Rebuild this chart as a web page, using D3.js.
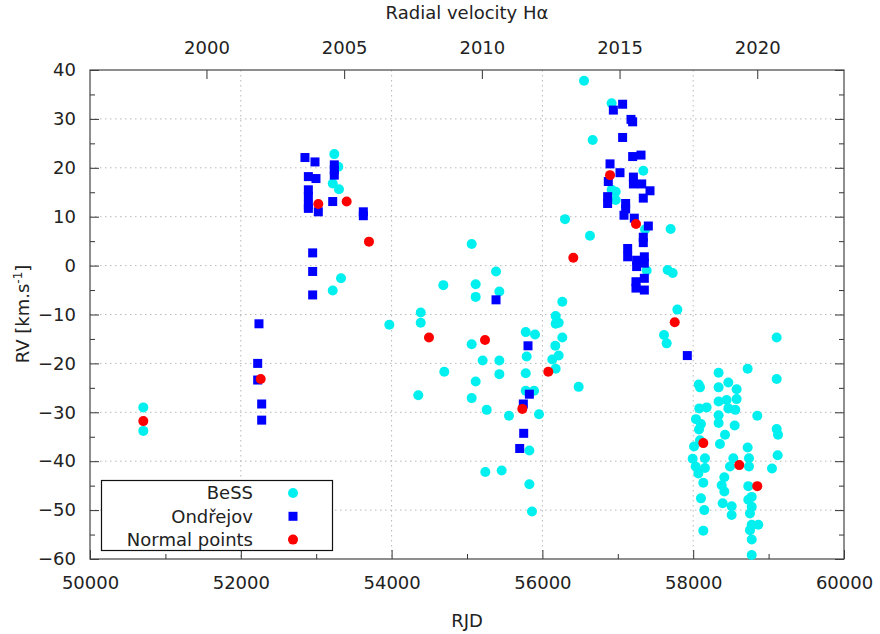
<!DOCTYPE html>
<html>
<head>
<meta charset="utf-8">
<script src="https://cdn.jsdelivr.net/npm/d3@7"></script>
<style>
  html, body { margin: 0; padding: 0; background: #fff; }
  svg { display: block; }
  text { font-family: "DejaVu Sans", sans-serif; fill: #222; }
</style>
</head>
<body>
<svg id="chart" width="880" height="634"></svg>
<script>
// BeSS amateur spectra: RJD and H-alpha radial velocity (km/s)
const bessRjd = [50707, 50707, 53240, 53293, 53219, 53302, 53329, 53219, 56552, 56667,
  56300, 56631, 55062, 55385, 55115, 55429, 55115, 54686, 56264, 56918,
  57338, 56918, 56972, 56972, 57361, 57701, 57383, 57661, 57728, 57790,
  54386, 54386, 53970, 55062, 55779, 55902, 55791, 55208, 55429, 54699,
  55115, 55429, 55779, 54354, 55062, 55779, 55889, 55261, 55557, 55955,
  55827, 55243, 55460, 55827, 55862, 56176, 56216, 56176, 56264, 56171,
  56216, 56131, 56176, 56481, 57613, 57648, 59107, 58722, 58337, 59107,
  58073, 58090, 58466, 58337, 58576, 58337, 58443, 58576, 58466, 58558,
  58081, 58178, 58850, 58337, 58337, 58037, 58103, 58077, 58550, 59107,
  59125, 58422, 58090, 58011, 58355, 58722, 57993, 58156, 58156, 58033,
  58068, 58134, 58532, 58488, 58740, 58740, 59045, 59120, 58413, 58378,
  58413, 58731, 58776, 58731, 58776, 58753, 58776, 58753, 58776, 58776,
  58863, 58103, 58147, 58391, 58510, 58510, 58134];
const bessRv = [-29.0, -33.8, 22.8, 20.2, 16.8, 15.6, -2.6, -5.1, 37.8, 25.7,
  9.5, 6.1, 4.4, -1.2, -3.8, -5.3, -6.4, -4.0, -7.4, 33.2,
  19.4, 15.5, 15.1, 13.4, 7.4, 7.5, -1.0, -0.9, -1.5, -9.0,
  -9.6, -11.7, -12.1, -16.1, -13.6, -14.1, -18.6, -19.4, -19.4, -21.7,
  -23.7, -22.2, -22.0, -26.5, -27.1, -25.6, -25.6, -29.5, -30.7, -30.4,
  -37.8, -42.2, -41.9, -44.7, -50.3, -10.3, -11.7, -11.9, -14.7, -16.4,
  -18.4, -19.2, -21.1, -24.8, -14.2, -15.9, -14.7, -21.1, -21.9, -23.2,
  -24.3, -24.9, -23.9, -24.9, -25.3, -27.8, -27.5, -27.3, -29.2, -29.5,
  -29.2, -29.0, -30.7, -30.6, -32.2, -31.4, -32.4, -33.5, -32.7, -33.4,
  -34.6, -34.6, -35.7, -37.0, -36.5, -37.2, -39.5, -39.4, -41.4, -41.1,
  -42.5, -44.4, -39.4, -41.1, -39.4, -41.1, -41.5, -38.8, -43.3, -44.9,
  -46.2, -45.1, -47.3, -47.9, -49.3, -50.7, -53.0, -54.1, -56.0, -59.2,
  -53.0, -47.6, -50.0, -48.6, -49.2, -51.0, -54.2];

// Ondřejov spectra
const ondRjd = [52241, 52224, 52224, 52277, 52277,
  52851, 52984, 52896, 52997, 52896, 52896, 52896, 52896, 53028, 53240,
  53240, 53240, 53219, 52953, 52953, 52953, 53625, 53625, 55385,
  55809, 55827, 55747, 55752, 55699,
  57064, 56941, 57175, 57197, 57064, 57197, 57308, 56897, 57029, 56874,
  57207, 57207, 57317, 57427, 56865, 56865, 57338, 57104, 57104, 57082,
  57219, 57405, 57338, 57338, 57131, 57131, 57250, 57250, 57352, 57352,
  57241, 57241, 57352, 57352, 57922];
const ondRv = [-11.9, -20.0, -23.4, -28.3, -31.6,
  22.1, 21.2, 18.2, 17.8, 15.5, 14.1, 12.4, 11.7, 11.0, 20.6,
  19.6, 18.5, 13.1, 2.6, -1.2, -6.0, 11.0, 10.2, -7.0,
  -16.4, -26.3, -28.3, -34.3, -37.4,
  33.0, 31.8, 29.9, 29.4, 26.2, 22.3, 22.6, 20.8, 19.0, 17.2,
  18.1, 16.7, 16.7, 15.3, 14.1, 12.7, 13.8, 12.7, 11.6, 10.3,
  9.7, 8.1, 5.8, 4.7, 3.5, 1.8, 1.1, -0.2, 1.8, 0.5,
  -3.3, -4.6, -2.6, -5.0, -18.4];

// Normal points
const normRjd = [50707, 52264, 53028, 53404, 53700, 54496, 55239, 56078, 55734,
  56410, 56897, 57241, 57755, 58134, 58611, 58850];
const normRv = [-31.8, -23.2, 12.6, 13.1, 4.9, -14.7, -15.2, -21.7, -29.3,
  1.6, 18.5, 8.5, -11.6, -36.3, -40.8, -45.1];

// Axis ticks
const rjdTicks = [50000, 52000, 54000, 56000, 58000, 60000];
const rjdMinor = [51000, 53000, 55000, 57000, 59000];
const rvTicks = [-60, -50, -40, -30, -20, -10, 0, 10, 20, 30, 40];
const rvMinor = [-55, -45, -35, -25, -15, -5, 5, 15, 25, 35];
const yearTicks = [2000, 2005, 2010, 2015, 2020];

const FS = 18;
const svg = d3.select("#chart");
const L = 90, R = 844, T = 70, B = 559;

const x = d3.scaleLinear().domain([50000, 60000]).range([L, R]);
const y = d3.scaleLinear().domain([-60, 40]).range([B, T]);
const toYear = r => 2000 + (r - 51544.5) / 365.25;
const xYear = d3.scaleLinear().domain([toYear(50000), toYear(60000)]).range([L, R]);

// dotted grid
const grid = svg.append("g").attr("stroke", "#b8b8b8").attr("stroke-width", 1)
  .attr("stroke-dasharray", "1.5,3.5");
grid.selectAll("line.gx").data(rjdTicks.slice(1, -1)).join("line")
  .attr("x1", d => x(d)).attr("x2", d => x(d)).attr("y1", T).attr("y2", B);
grid.selectAll("line.gy").data(rvTicks.slice(1, -1)).join("line")
  .attr("x1", L).attr("x2", R).attr("y1", d => y(d)).attr("y2", d => y(d));

function styleAxis(g) {
  g.select(".domain").remove();
  g.selectAll(".tick line").attr("stroke", "#333");
  g.selectAll(".tick text").attr("font-size", FS).attr("fill", "#222")
    .style("font-family", "'DejaVu Sans', sans-serif");
}

// bottom axis
svg.append("g").attr("transform", `translate(0,${B})`)
  .call(d3.axisBottom(x).tickValues(rjdTicks).tickFormat(d3.format("d")).tickSizeInner(-9).tickSizeOuter(0).tickPadding(17))
  .call(styleAxis);
svg.append("g").attr("transform", `translate(0,${B})`)
  .call(d3.axisBottom(x).tickValues(rjdMinor).tickFormat("").tickSizeInner(-5).tickSizeOuter(0))
  .call(styleAxis);

// left axis
svg.append("g").attr("transform", `translate(${L},0)`)
  .call(d3.axisLeft(y).tickValues(rvTicks).tickFormat(d3.format("d")).tickSizeInner(-9).tickSizeOuter(0).tickPadding(14))
  .call(styleAxis);
svg.append("g").attr("transform", `translate(${L},0)`)
  .call(d3.axisLeft(y).tickValues(rvMinor).tickFormat("").tickSizeInner(-5).tickSizeOuter(0))
  .call(styleAxis);

// right axis (ticks only)
svg.append("g").attr("transform", `translate(${R},0)`)
  .call(d3.axisRight(y).tickValues(rvTicks).tickFormat("").tickSizeInner(-9).tickSizeOuter(0))
  .call(styleAxis);
svg.append("g").attr("transform", `translate(${R},0)`)
  .call(d3.axisRight(y).tickValues(rvMinor).tickFormat("").tickSizeInner(-5).tickSizeOuter(0))
  .call(styleAxis);

// top axis in calendar years
svg.append("g").attr("transform", `translate(0,${T})`)
  .call(d3.axisTop(xYear).tickValues(yearTicks).tickFormat(d3.format("d")).tickSizeInner(-9).tickSizeOuter(0).tickPadding(16))
  .call(styleAxis);

// frame
svg.append("rect").attr("x", L).attr("y", T).attr("width", R - L).attr("height", B - T)
  .attr("fill", "none").attr("stroke", "#444").attr("stroke-width", 1.2);

// data marks
const plot = svg.append("g");
const bess = d3.zip(bessRjd, bessRv);
const ond = d3.zip(ondRjd, ondRv);
const norm = d3.zip(normRjd, normRv);

plot.append("g").selectAll("circle").data(bess).join("circle")
  .attr("cx", d => x(d[0])).attr("cy", d => y(d[1])).attr("r", 5)
  .attr("fill", "#00f0f0");
plot.append("g").selectAll("rect").data(ond).join("rect")
  .attr("x", d => x(d[0]) - 4.5).attr("y", d => y(d[1]) - 4.5)
  .attr("width", 9).attr("height", 9).attr("fill", "#0000ff");
plot.append("g").selectAll("circle").data(norm).join("circle")
  .attr("cx", d => x(d[0])).attr("cy", d => y(d[1])).attr("r", 5)
  .attr("fill", "#ff0000");

// legend
const lg = svg.append("g");
lg.append("rect").attr("x", 101.5).attr("y", 480.5).attr("width", 231).attr("height", 70)
  .attr("fill", "#fff").attr("stroke", "#111").attr("stroke-width", 1.2);
const legendItems = [
  { label: "BeSS", kind: "bess" },
  { label: "Ondřejov", kind: "ond" },
  { label: "Normal points", kind: "norm" }
];
legendItems.forEach((it, i) => {
  const cy = 493 + i * 23.3;
  lg.append("text").attr("x", 253).attr("y", cy).attr("dy", "0.35em")
    .attr("text-anchor", "end").attr("font-size", FS).text(it.label);
  if (it.kind === "ond") {
    lg.append("rect").attr("x", 293 - 4.5).attr("y", cy - 4.5).attr("width", 9).attr("height", 9).attr("fill", "#0000ff");
  } else {
    lg.append("circle").attr("cx", 293).attr("cy", cy).attr("r", 5)
      .attr("fill", it.kind === "bess" ? "#00f0f0" : "#ff0000");
  }
});

// titles
svg.append("text").attr("x", 467).attr("y", 19).attr("text-anchor", "middle")
  .attr("font-size", FS).text("Radial velocity Hα");
svg.append("text").attr("x", 467).attr("y", 627).attr("text-anchor", "middle")
  .attr("font-size", FS).text("RJD");
const yl = svg.append("text").attr("transform", "translate(29,314) rotate(-90)")
  .attr("text-anchor", "middle").attr("font-size", FS);
yl.append("tspan").text("RV [km.s");
yl.append("tspan").attr("font-size", 12).attr("dy", -7).text("-1");
yl.append("tspan").attr("dy", 7).text("]");
</script>
</body>
</html>
